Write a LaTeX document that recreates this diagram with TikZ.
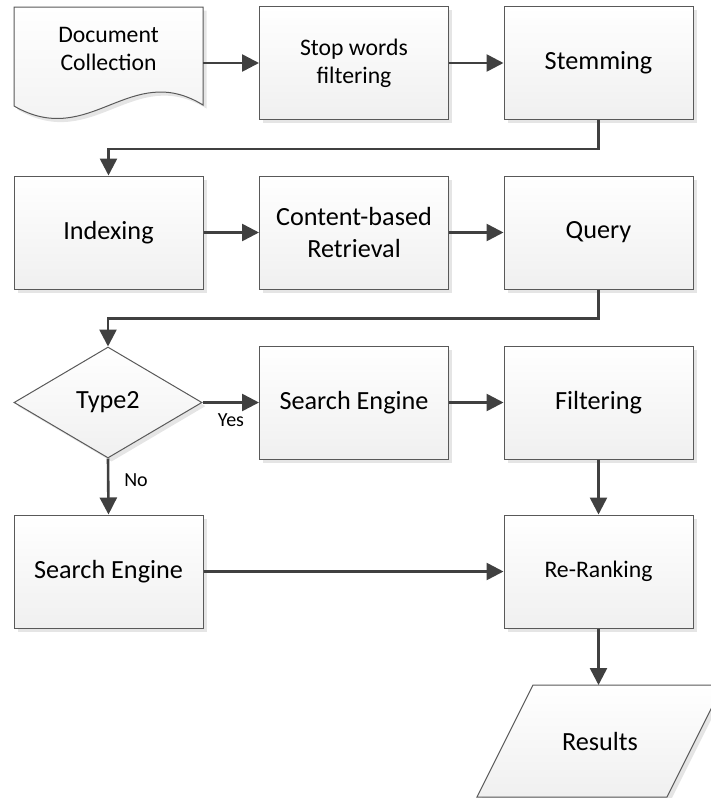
\documentclass[tikz,border=0pt]{standalone}
\usepackage{fontspec}
\setmainfont{Carlito}
\usetikzlibrary{arrows.meta,shapes.geometric,shadows,calc}
\newcommand\fbig{\fontsize{13.1}{15.6}\selectfont}
\newcommand\fsmall{\fontsize{11.85}{14}\selectfont}
\tikzset{
  boxshade/.style={top color=white, bottom color=black!6, draw=black!65, line width=0.5pt,
    drop shadow={shadow xshift=1.8pt, shadow yshift=-1.8pt, fill=black!10, opacity=1}},
  procbox/.style={boxshade, rectangle, minimum width=94.5pt, minimum height=56.5pt,
    inner sep=0pt, align=center, font=\fbig},
  smallbox/.style={procbox, font=\fsmall},
  decbox/.style={boxshade, diamond, aspect=2, inner sep=0pt, minimum width=94pt,
    minimum height=55.5pt, align=center, font=\fbig},
  plain/.style={inner sep=0pt, align=center},
  lab/.style={inner sep=0pt, font=\fontsize{10}{12}\selectfont},
  arr/.style={draw=black!75, line width=1.3pt, -{Triangle[length=8.5pt,width=8.5pt]}},
}
\begin{document}
\begin{tikzpicture}[x=0.5pt,y=-0.5pt]
\clip (0,0) rectangle (711,798);
% document shape
\path[boxshade] (14,7) -- (203,7) -- (203,105)
  .. controls (130,60) and (90,150) .. (14,106) -- cycle;
\node[plain, minimum width=94.5pt, minimum height=56pt] (doc) at (108.5,63) {};
\node[plain, font=\fsmall] (doctxt) at (108.5,49) {Document\\Collection};
% row 1
\node[smallbox] (stop) at (354,63) {Stop words\\filtering};
\node[procbox] (stem) at (598.5,63) {Stemming};
% row 2
\node[procbox] (idx) at (108.5,232.5) {Indexing};
\node[procbox] (cbr) at (354,232.5) {Content-based\\Retrieval};
\node[procbox] (qry) at (598.5,232.5) {Query};
% row 3
\node[decbox] (dec) at (108,402.5) {Type2};
\node[procbox] (se1) at (354,402.5) {Search Engine};
\node[procbox] (filt) at (598.5,402.5) {Filtering};
% row 4
\node[procbox] (se2) at (108.5,571.5) {Search Engine};
\node[smallbox] (rr) at (598.5,571.5) {Re-Ranking};
% results
\path[boxshade] (533,685) -- (723,685) -- (667,797) -- (477,797) -- cycle;
\coordinate (restop) at (598.5,685);
\node[plain, font=\fbig] (res) at (600,741) {Results};
% labels
\node[lab] (yes) at (231,420) {Yes};
\node[lab] (no) at (136,480) {No};
% connectors
\draw[arr] (doc.east) -- (stop.west);
\draw[arr] (stop.east) -- (stem.west);
\draw[arr] (stem.south) -- ++(0,29) -| (idx.north);
\draw[arr] (idx.east) -- (cbr.west);
\draw[arr] (cbr.east) -- (qry.west);
\draw[arr] (qry.south) -- ++(0,29) -| (dec.north);
\draw[arr] (dec.east) -- (se1.west);
\draw[arr] (se1.east) -- (filt.west);
\draw[arr] (dec.south) -- (se2.north);
\draw[arr] (filt.south) -- (rr.north);
\draw[arr] (se2.east) -- (rr.west);
\draw[arr] (rr.south) -- (restop);
\end{tikzpicture}
\end{document}
